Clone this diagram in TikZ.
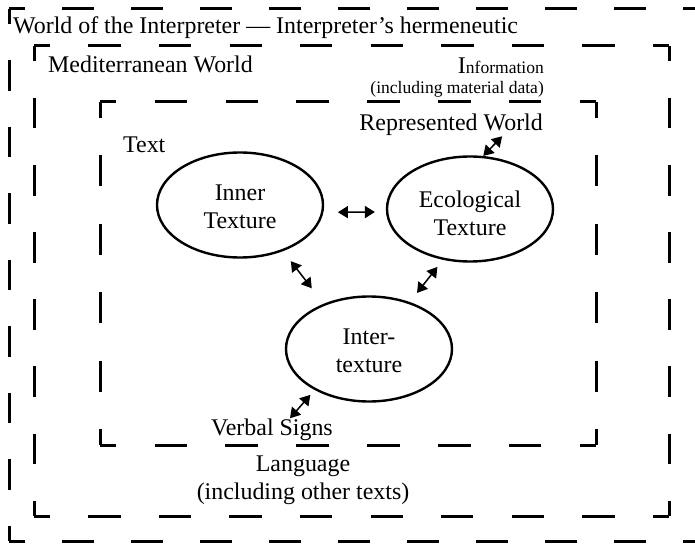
\documentclass[tikz,border=0pt]{standalone}
\usepackage{fontspec}
\setmainfont{Liberation Serif}
\usetikzlibrary{shapes.geometric,arrows.meta}
\newcommand{\txtfont}{\fontsize{24}{28}\selectfont}
\newcommand{\smallfont}{\fontsize{17.6}{21}\selectfont}
\begin{document}
\begin{tikzpicture}[x=1bp,y=-1bp,
  boxline/.style={line width=3bp, line cap=square},
  dashes/.style n args={3}{dash pattern=on #1bp off #2bp, dash phase=#3bp},
  texture/.style={ellipse, draw, line width=2.4bp, minimum width=166bp, minimum height=105bp, inner sep=0pt, align=center, font=\txtfont},
  lbl/.style={inner sep=0pt, font=\txtfont},
  small/.style={inner sep=0pt, font=\smallfont},
  dbl/.style={{Triangle[length=10bp,width=12bp]}-{Triangle[length=10bp,width=12bp]}, line width=1.5bp}]
\useasboundingbox (0,0) rectangle (695,545);
\clip (0,0) rectangle (695,545);
% outer box (World of the Interpreter)
\draw[boxline, dashes={31.5}{37.5}{15.75}] (9,9) -- (740,9);
\draw[boxline, dashes={30.25}{36.25}{15.13}] (9,9) -- (9,541);
\draw[boxline, dashes={31.5}{37.5}{15.75}] (9,541) -- (740,541);
% middle box (Mediterranean World)
\draw[boxline, dashes={32.28}{38.28}{16.14}] (34,46) -- (669,46);
\draw[boxline, dashes={30.57}{36.57}{15.29}] (669,46) -- (669,516);
\draw[boxline, dashes={32.28}{38.28}{16.14}] (669,516) -- (34,516);
\draw[boxline, dashes={30.57}{36.57}{15.29}] (34,516) -- (34,46);
% inner box (Text)
\draw[boxline, dashes={32.43}{38.43}{16.22}] (100,102) -- (596,102);
\draw[boxline, dashes={31.3}{37.3}{15.65}] (596,102) -- (596,445);
\draw[boxline, dashes={32.43}{38.43}{16.22}] (596,445) -- (100,445);
\draw[boxline, dashes={31.3}{37.3}{15.65}] (100,445) -- (100,102);
% labels
\node[lbl, anchor=base west] (title) at (13,34) {World of the Interpreter — Interpreter’s hermeneutic};
\node[lbl, anchor=base west] (med) at (48,73) {Mediterranean World};
\node[small, anchor=base east] (info) at (544,74) {{\txtfont I}nformation};
\node[small, anchor=base east] (infod) at (544,94) {(including material data)};
\node[lbl, anchor=base east] (rw) at (543,131) {Represented World};
\node[lbl, anchor=base west] (text) at (123,153) {Text};
\node[texture] (inner) at (240,205) {\rule{0pt}{20bp}Inner\\Texture};
\node[texture] (eco) at (470,209) {\rule{0pt}{26bp}Ecological\\Texture};
\node[texture] (inter) at (369,349) {\rule{0pt}{20bp}Inter-\\texture};
\node[lbl, anchor=base] (vs) at (272,435) {Verbal Signs};
\node[lbl, align=center, anchor=north] (lang) at (303,456) {Language\\(including other texts)};
% connectors
\draw[dbl, shorten <=14.5bp, shorten >=11bp] (inner.355.8) -- (eco.182.1);
\draw[dbl, shorten <=12.7bp, shorten >=19.5bp] (inner.313.1) -- (inter.135.8);
\draw[dbl, shorten <=9bp, shorten >=11.6bp] (eco.242.2) -- (inter.49.8);
\draw[dbl] (eco.76) -- ([xshift=51bp]rw.south);
\draw[dbl, shorten <=6.5bp] (inter.217.3) -- ([xshift=18bp]vs.north);
\end{tikzpicture}
\end{document}
